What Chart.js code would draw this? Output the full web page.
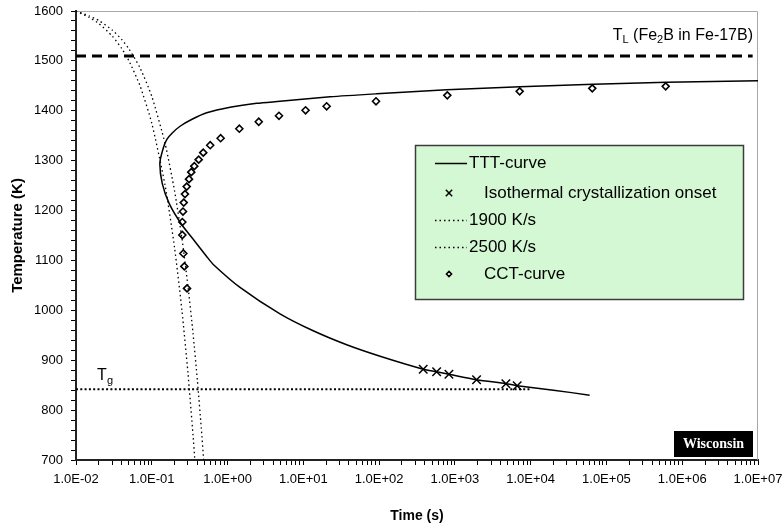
<!DOCTYPE html>
<html>
<head>
<meta charset="utf-8">
<script src="https://cdn.jsdelivr.net/npm/chart.js@4.4.1/dist/chart.umd.min.js"></script>
<style>
html, body { margin: 0; padding: 0; background: #fff; }
</style>
</head>
<body>
<canvas id="chart" width="784" height="531"></canvas>
<script>
// TTT curve: lower end -> nose -> upper end (time s, temperature K)
const tttTime = [60000, 20000, 6640, 4710, 1932, 834, 574, 383, 103, 37.3, 13.5, 4.92, 1.46, 0.648, 0.53, 0.371, 0.248, 0.170, 0.1376, 0.128, 0.143, 0.159, 0.185, 0.236, 0.340, 0.531, 1.08, 2.43, 4.92, 22.5, 93, 780, 7230, 67000, 624000, 1e7];
const tttTemp = [830, 840, 849, 853, 861, 872, 877, 882, 908, 931, 959, 993, 1046, 1092, 1108, 1138, 1172, 1214, 1254, 1296, 1327, 1343, 1355, 1369, 1383, 1396, 1407, 1415, 1419, 1428, 1434, 1442, 1448, 1453, 1457, 1460];

// isothermal crystallization onsets (crosses)
const isoTime = [382, 574, 834, 1932, 4710, 6640];
const isoTemp = [882, 877, 872, 861, 853, 849];

// cooling curves
const cool1900Time = [0.01, 0.015, 0.02, 0.03, 0.04, 0.05, 0.07, 0.1, 0.15, 0.2, 0.25, 0.3, 0.35, 0.4, 0.45, 0.484];
const cool1900Temp = [1600, 1590, 1581, 1562, 1543, 1524, 1486, 1429, 1334, 1239, 1144, 1049, 954, 859, 764, 700];
const cool2500Time = [0.01, 0.015, 0.02, 0.03, 0.04, 0.05, 0.07, 0.1, 0.15, 0.2, 0.25, 0.3, 0.35, 0.37];
const cool2500Temp = [1600, 1587, 1575, 1550, 1525, 1500, 1450, 1375, 1250, 1125, 1000, 875, 750, 700];

// CCT curve (diamonds)
const cctTime = [0.292, 0.269, 0.261, 0.253, 0.253, 0.258, 0.264, 0.274, 0.289, 0.31, 0.332, 0.364, 0.416, 0.478, 0.59, 0.81, 1.43, 2.58, 4.77, 10.7, 20.3, 91, 794, 7160, 65000, 605000];
const cctTemp = [1044, 1088, 1114, 1151, 1177, 1198, 1216, 1233, 1248, 1263, 1277, 1289, 1302, 1316, 1331, 1345, 1364, 1378, 1390, 1401, 1409, 1419, 1431, 1439, 1445, 1449];

// horizontal reference lines
const tlTime = [0.01, 8.5e6];
const tlTemp = [1510, 1510];
const tgTime = [0.01, 1e4];
const tgTemp = [842, 842];

// axes
const xTickValues = [0.01, 0.1, 1, 10, 100, 1000, 10000, 100000, 1000000, 10000000];
const xTickLabels = ['1.0E-02', '1.0E-01', '1.0E+00', '1.0E+01', '1.0E+02', '1.0E+03', '1.0E+04', '1.0E+05', '1.0E+06', '1.0E+07'];
const yMin = 700, yMax = 1600;

function pts(xs, ys) {
    return xs.map((x, i) => ({x: x, y: ys[i]}));
}

const FONT = "'Liberation Sans', Arial, sans-serif";
Chart.defaults.font.family = FONT;
Chart.defaults.color = '#000';

// log ticks: every 1..9 x 10^n
let xTicks = [];
for (let d = 0; d < xTickValues.length; d++) {
    let base = xTickValues[d];
    xTicks.push(base);
    if (d < xTickValues.length - 1) {
        for (let k = 2; k <= 9; k++) xTicks.push(base * k);
    }
}

function drawMarker(ctx, ds, x, y) {
    if (Chart.helpers && Chart.helpers.drawPoint) {
        ctx.strokeStyle = ds.borderColor;
        ctx.fillStyle = ds.backgroundColor;
        ctx.lineWidth = ds.borderWidth;
        Chart.helpers.drawPoint(ctx, {pointStyle: ds.pointStyle, radius: ds.legendRadius, borderWidth: ds.borderWidth, rotation: 0}, x, y);
    }
}

// gray top/right frame
const frame = {
    id: 'frame',
    beforeDatasetsDraw(chart) {
        const {ctx, chartArea: a} = chart;
        ctx.save();
        ctx.strokeStyle = '#a8a8a8';
        ctx.lineWidth = 1;
        ctx.beginPath();
        ctx.moveTo(a.left, a.top + 0.5);
        ctx.lineTo(a.right - 0.5, a.top + 0.5);
        ctx.lineTo(a.right - 0.5, a.bottom);
        ctx.stroke();
        ctx.restore();
    }
};

// legend box + text labels
const extras = {
    id: 'extras',
    afterDraw(chart) {
        const ctx = chart.ctx;
        ctx.save();

        // legend
        ctx.fillStyle = '#d4f8d4';
        ctx.fillRect(415, 145, 329, 155);
        ctx.strokeStyle = '#3c3c3c';
        ctx.lineWidth = 1.5;
        ctx.strokeRect(415.5, 145.5, 328, 154);
        const rows = [163, 193, 220, 247, 274];
        ctx.font = '17px ' + FONT;
        ctx.textBaseline = 'middle';
        ctx.textAlign = 'left';
        chart.data.datasets.forEach((ds, i) => {
            if (ds.inLegend === false) return;
            const y = rows[i];
            ctx.save();
            if (ds.showLine) {
                ctx.strokeStyle = '#000';
                ctx.lineWidth = ds.borderWidth;
                ctx.setLineDash(ds.borderDash || []);
                ctx.beginPath();
                ctx.moveTo(435, y + 0.5);
                ctx.lineTo(467, y + 0.5);
                ctx.stroke();
                ctx.restore();
                ctx.fillStyle = '#000';
                ctx.fillText(ds.label, 469, y);
            } else {
                drawMarker(ctx, ds, 449, y);
                ctx.restore();
                ctx.fillStyle = '#000';
                ctx.fillText(ds.label, 484, y);
            }
        });

        // T_L label
        ctx.fillStyle = '#000';
        ctx.textBaseline = 'alphabetic';
        const big = '16px ' + FONT, small = '11px ' + FONT;
        const parts = [['T', big, 0], ['L', small, 3], [' (Fe', big, 0], ['2', small, 3], ['B in Fe-17B)', big, 0]];
        let w = 0;
        parts.forEach(p => { ctx.font = p[1]; w += ctx.measureText(p[0]).width; });
        let x = 753 - w;
        parts.forEach(p => {
            ctx.font = p[1];
            ctx.fillText(p[0], x, 40 + p[2]);
            x += ctx.measureText(p[0]).width;
        });

        // T_g label
        ctx.font = big;
        ctx.fillText('T', 97, 380);
        ctx.font = small;
        ctx.fillText('g', 107, 384);

        // Wisconsin tag
        ctx.fillStyle = '#000';
        ctx.fillRect(674, 431, 79, 26);
        ctx.fillStyle = '#fff';
        ctx.font = "bold 14px 'Liberation Serif', 'Times New Roman', serif";
        ctx.textAlign = 'center';
        ctx.textBaseline = 'middle';
        ctx.fillText('Wisconsin', 713.5, 444.5);

        ctx.restore();
    }
};

new Chart(document.getElementById('chart'), {
    type: 'scatter',
    data: {
        datasets: [
            {
                label: 'TTT-curve',
                data: pts(tttTime, tttTemp),
                showLine: true,
                borderColor: '#000',
                borderWidth: 1.5,
                pointRadius: 0,
                tension: 0.25
            },
            {
                label: 'Isothermal crystallization onset',
                data: pts(isoTime, isoTemp),
                showLine: false,
                pointStyle: 'crossRot',
                pointRadius: 6,
                legendRadius: 4.5,
                borderColor: '#000',
                backgroundColor: '#000',
                borderWidth: 1.5
            },
            {
                label: '1900 K/s',
                data: pts(cool1900Time, cool1900Temp),
                showLine: true,
                borderColor: '#000',
                borderWidth: 1.3,
                borderDash: [1.5, 3],
                pointRadius: 0,
                tension: 0.2
            },
            {
                label: '2500 K/s',
                data: pts(cool2500Time, cool2500Temp),
                showLine: true,
                borderColor: '#000',
                borderWidth: 1.3,
                borderDash: [1.5, 3],
                pointRadius: 0,
                tension: 0.2
            },
            {
                label: 'CCT-curve',
                data: pts(cctTime, cctTemp),
                showLine: false,
                pointStyle: 'rectRot',
                pointRadius: 3.5,
                legendRadius: 2.5,
                borderColor: '#000',
                backgroundColor: '#fff',
                borderWidth: 1.6
            },
            {
                label: 'T_L',
                inLegend: false,
                data: pts(tlTime, tlTemp),
                showLine: true,
                borderColor: '#000',
                borderWidth: 3,
                borderDash: [10, 6],
                pointRadius: 0
            },
            {
                label: 'T_g',
                inLegend: false,
                data: pts(tgTime, tgTemp),
                showLine: true,
                borderColor: '#000',
                borderWidth: 2,
                borderDash: [2, 2.3],
                pointRadius: 0
            }
        ]
    },
    options: {
        responsive: false,
        animation: false,
        layout: { padding: { top: 11, right: 26, left: 0, bottom: 0 } },
        plugins: {
            legend: { display: false },
            tooltip: { enabled: false }
        },
        scales: {
            x: {
                type: 'logarithmic',
                min: 0.01,
                max: 1e7,
                afterBuildTicks: (scale) => { scale.ticks = xTicks.map(v => ({value: v})); },
                afterFit: (scale) => {
                    scale.height = 71;
                    scale.paddingLeft = 0;
                    scale.paddingRight = 0;
                },
                ticks: {
                    autoSkip: false,
                    maxRotation: 0,
                    padding: 7,
                    font: { size: 13 },
                    callback: (v) => {
                        const i = xTickValues.findIndex(t => Math.abs(t - v) / t < 1e-6);
                        return i >= 0 ? xTickLabels[i] : '';
                    }
                },
                grid: { drawOnChartArea: false, tickLength: 5, color: '#000', lineWidth: 1 },
                border: { color: '#222', width: 2 },
                title: { display: true, text: 'Time (s)', font: { size: 14, weight: 'bold' }, padding: { top: 0, bottom: 6 } }
            },
            y: {
                min: yMin,
                max: yMax,
                afterFit: (scale) => {
                    scale.width = 76;
                    scale.paddingTop = 0;
                    scale.paddingBottom = 0;
                },
                ticks: {
                    stepSize: 20,
                    autoSkip: false,
                    padding: 8,
                    font: { size: 13 },
                    callback: (v) => (v % 100 === 0 ? String(v) : '')
                },
                grid: { drawOnChartArea: false, tickLength: 5, color: '#000', lineWidth: 1 },
                border: { color: '#222', width: 2 },
                title: { display: true, text: 'Temperature (K)', font: { size: 15, weight: 'bold' }, padding: { top: 9, bottom: 0 } }
            }
        }
    },
    plugins: [frame, extras]
});
</script>
</body>
</html>
